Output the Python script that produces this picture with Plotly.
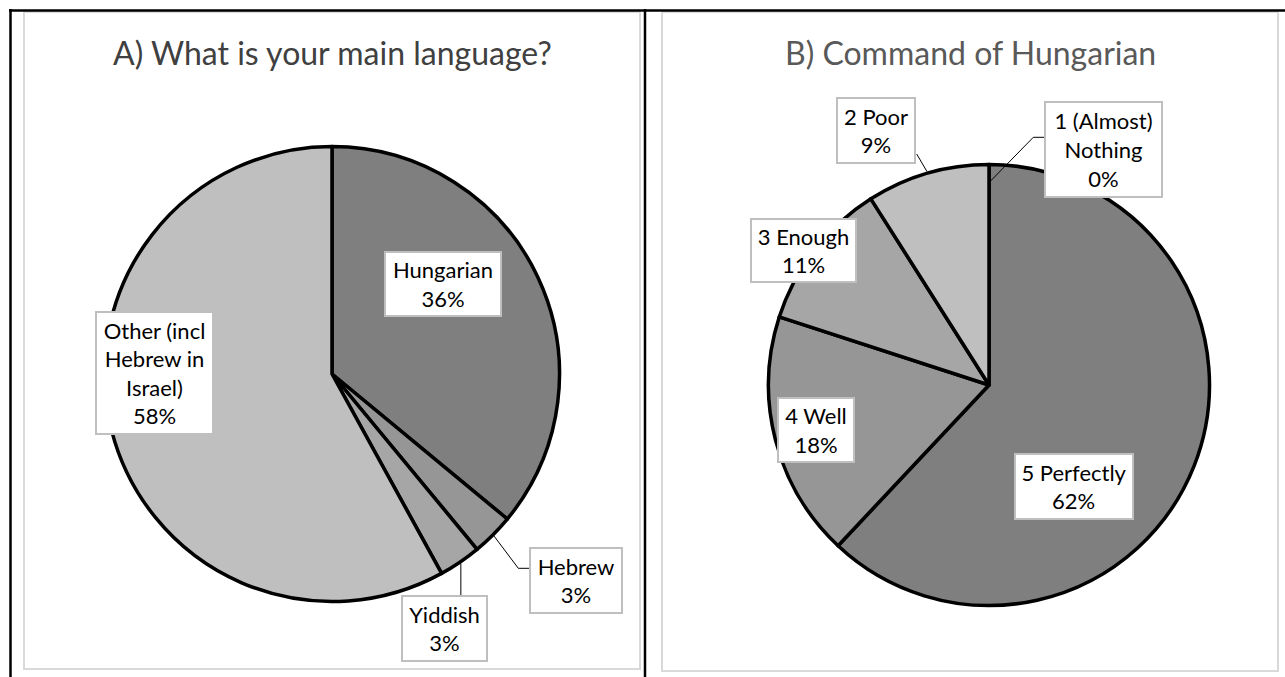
import math
import plotly.graph_objects as go

W, H = 1285, 677

# ---------------- data ----------------
lang_labels = ["Hungarian", "Hebrew", "Yiddish", "Other (incl<br>Hebrew in<br>Israel)"]
lang_values = [36, 3, 3, 58]
lang_colors = ["#7f7f7f", "#969696", "#a6a6a6", "#bfbfbf"]

cmd_labels = ["1 (Almost)<br>Nothing", "5 Perfectly", "4 Well", "3 Enough", "2 Poor"]
cmd_values = [0, 62, 18, 11, 9]
cmd_colors = ["#7f7f7f", "#7f7f7f", "#969696", "#a6a6a6", "#bfbfbf"]

title_a = "A) What is your main language?"
title_b = "B) Command of Hungarian"

# ---------------- layout helpers (pixels -> paper) ----------------
def px(x):
    return x / W

def py(y):
    return 1 - y / H

FONT = "Lato"
OUTLINE = 3.5

# pie geometry (style)
pieA = dict(cx=332, cy=374, r=227.5)
pieB = dict(cx=989, cy=385, r=220.5)

# label boxes: centre x, centre y, width, height (style)
boxes_a = [
    (442.5, 283.7, 118, 66),
    (576.3, 580.3, 94, 67),
    (444.0, 628.3, 87, 67),
    (154.5, 373.0, 119, 124),
]
boxes_b = [
    (1103.6, 150.0, 119, 97),
    (1074.0, 486.7, 120, 67),
    (815.8, 429.7, 78, 66),
    (803.7, 250.0, 107, 65),
    (876.0, 130.0, 80, 67),
]


def slice_point(pie, values, idx, frac=1.0):
    total = sum(values)
    start = sum(values[:idx]) / total
    mid = (start + values[idx] / total / 2) * 2 * math.pi
    r = pie["r"] * frac + OUTLINE / 2
    return pie["cx"] + r * math.sin(mid), pie["cy"] - r * math.cos(mid)


fig = go.Figure()

for pie, labels, values, colors in [
    (pieA, lang_labels, lang_values, lang_colors),
    (pieB, cmd_labels, cmd_values, cmd_colors),
]:
    fig.add_trace(go.Pie(
        labels=labels,
        values=values,
        sort=False,
        direction="clockwise",
        rotation=0,
        textinfo="none",
        hoverinfo="label+percent",
        marker=dict(colors=colors, line=dict(color="#000000", width=OUTLINE)),
        domain=dict(x=[px(pie["cx"] - pie["r"]), px(pie["cx"] + pie["r"])],
                    y=[py(pie["cy"] + pie["r"]), py(pie["cy"] - pie["r"])]),
        showlegend=False,
    ))

shapes = []
# chart area borders (light gray)
for x0, y0, x1, y1 in [(24, 12, 640, 669), (662, 12, 1278, 671)]:
    shapes.append(dict(type="rect", xref="paper", yref="paper",
                       x0=px(x0), x1=px(x1), y0=py(y0), y1=py(y1),
                       line=dict(color="#d9d9d9", width=2), fillcolor="rgba(0,0,0,0)"))
# black table lines
for x0, y0, x1, y1 in [(9, 10.5, 1290, 10.5), (10.5, 9, 10.5, 690), (645, 9, 645, 690)]:
    shapes.append(dict(type="line", xref="paper", yref="paper",
                       x0=px(x0), x1=px(x1), y0=py(y0), y1=py(y1),
                       line=dict(color="#000000", width=2.5)))


def leader(points):
    path = "M " + " L ".join(f"{px(x)},{py(y)}" for x, y in points)
    shapes.append(dict(type="path", xref="paper", yref="paper", path=path,
                       line=dict(color="#000000", width=1)))

# leader lines for outside labels
hx, hy = slice_point(pieA, lang_values, 1)
leader([(hx, hy), (518.3, 568.3), (529.3, 568.3)])
yx, yy = slice_point(pieA, lang_values, 2)
leader([(yx, yy), (yx, 595)])
px_, py_ = slice_point(pieB, cmd_values, 4)
leader([(px_, py_), (916.7, 154)])
nx, ny = slice_point(pieB, cmd_values, 0, frac=0.91)
leader([(nx, ny), (1033.3, 137.3), (1044, 137.3)])

annotations = []
for labels, values, boxes in [(lang_labels, lang_values, boxes_a), (cmd_labels, cmd_values, boxes_b)]:
    for lab, val, (bx, by, bw, bh) in zip(labels, values, boxes):
        annotations.append(dict(
            x=px(bx), y=py(by), xref="paper", yref="paper",
            xanchor="center", yanchor="middle", showarrow=False,
            text=f"{lab}<br>{val}%", align="center",
            font=dict(family=FONT, size=22, color="#000000"),
            bgcolor="#ffffff", bordercolor="#bfbfbf", borderwidth=2, borderpad=0,
            width=bw - 4, height=bh - 4,
        ))

annotations.append(dict(x=px(332), y=py(52), xref="paper", yref="paper",
                        xanchor="center", yanchor="middle", showarrow=False,
                        text=title_a, font=dict(family=FONT, size=32, color="#404040")))
annotations.append(dict(x=px(970), y=py(52), xref="paper", yref="paper",
                        xanchor="center", yanchor="middle", showarrow=False,
                        text=title_b, font=dict(family=FONT, size=32, color="#595959")))

fig.update_layout(
    width=W, height=H,
    margin=dict(l=0, r=0, t=0, b=0),
    paper_bgcolor="#ffffff", plot_bgcolor="#ffffff",
    shapes=shapes, annotations=annotations,
    font=dict(family=FONT),
)

fig.write_html("out.html", config={"displayModeBar": False},
               post_script="document.body.style.margin='0px';document.body.style.overflow='hidden';")
